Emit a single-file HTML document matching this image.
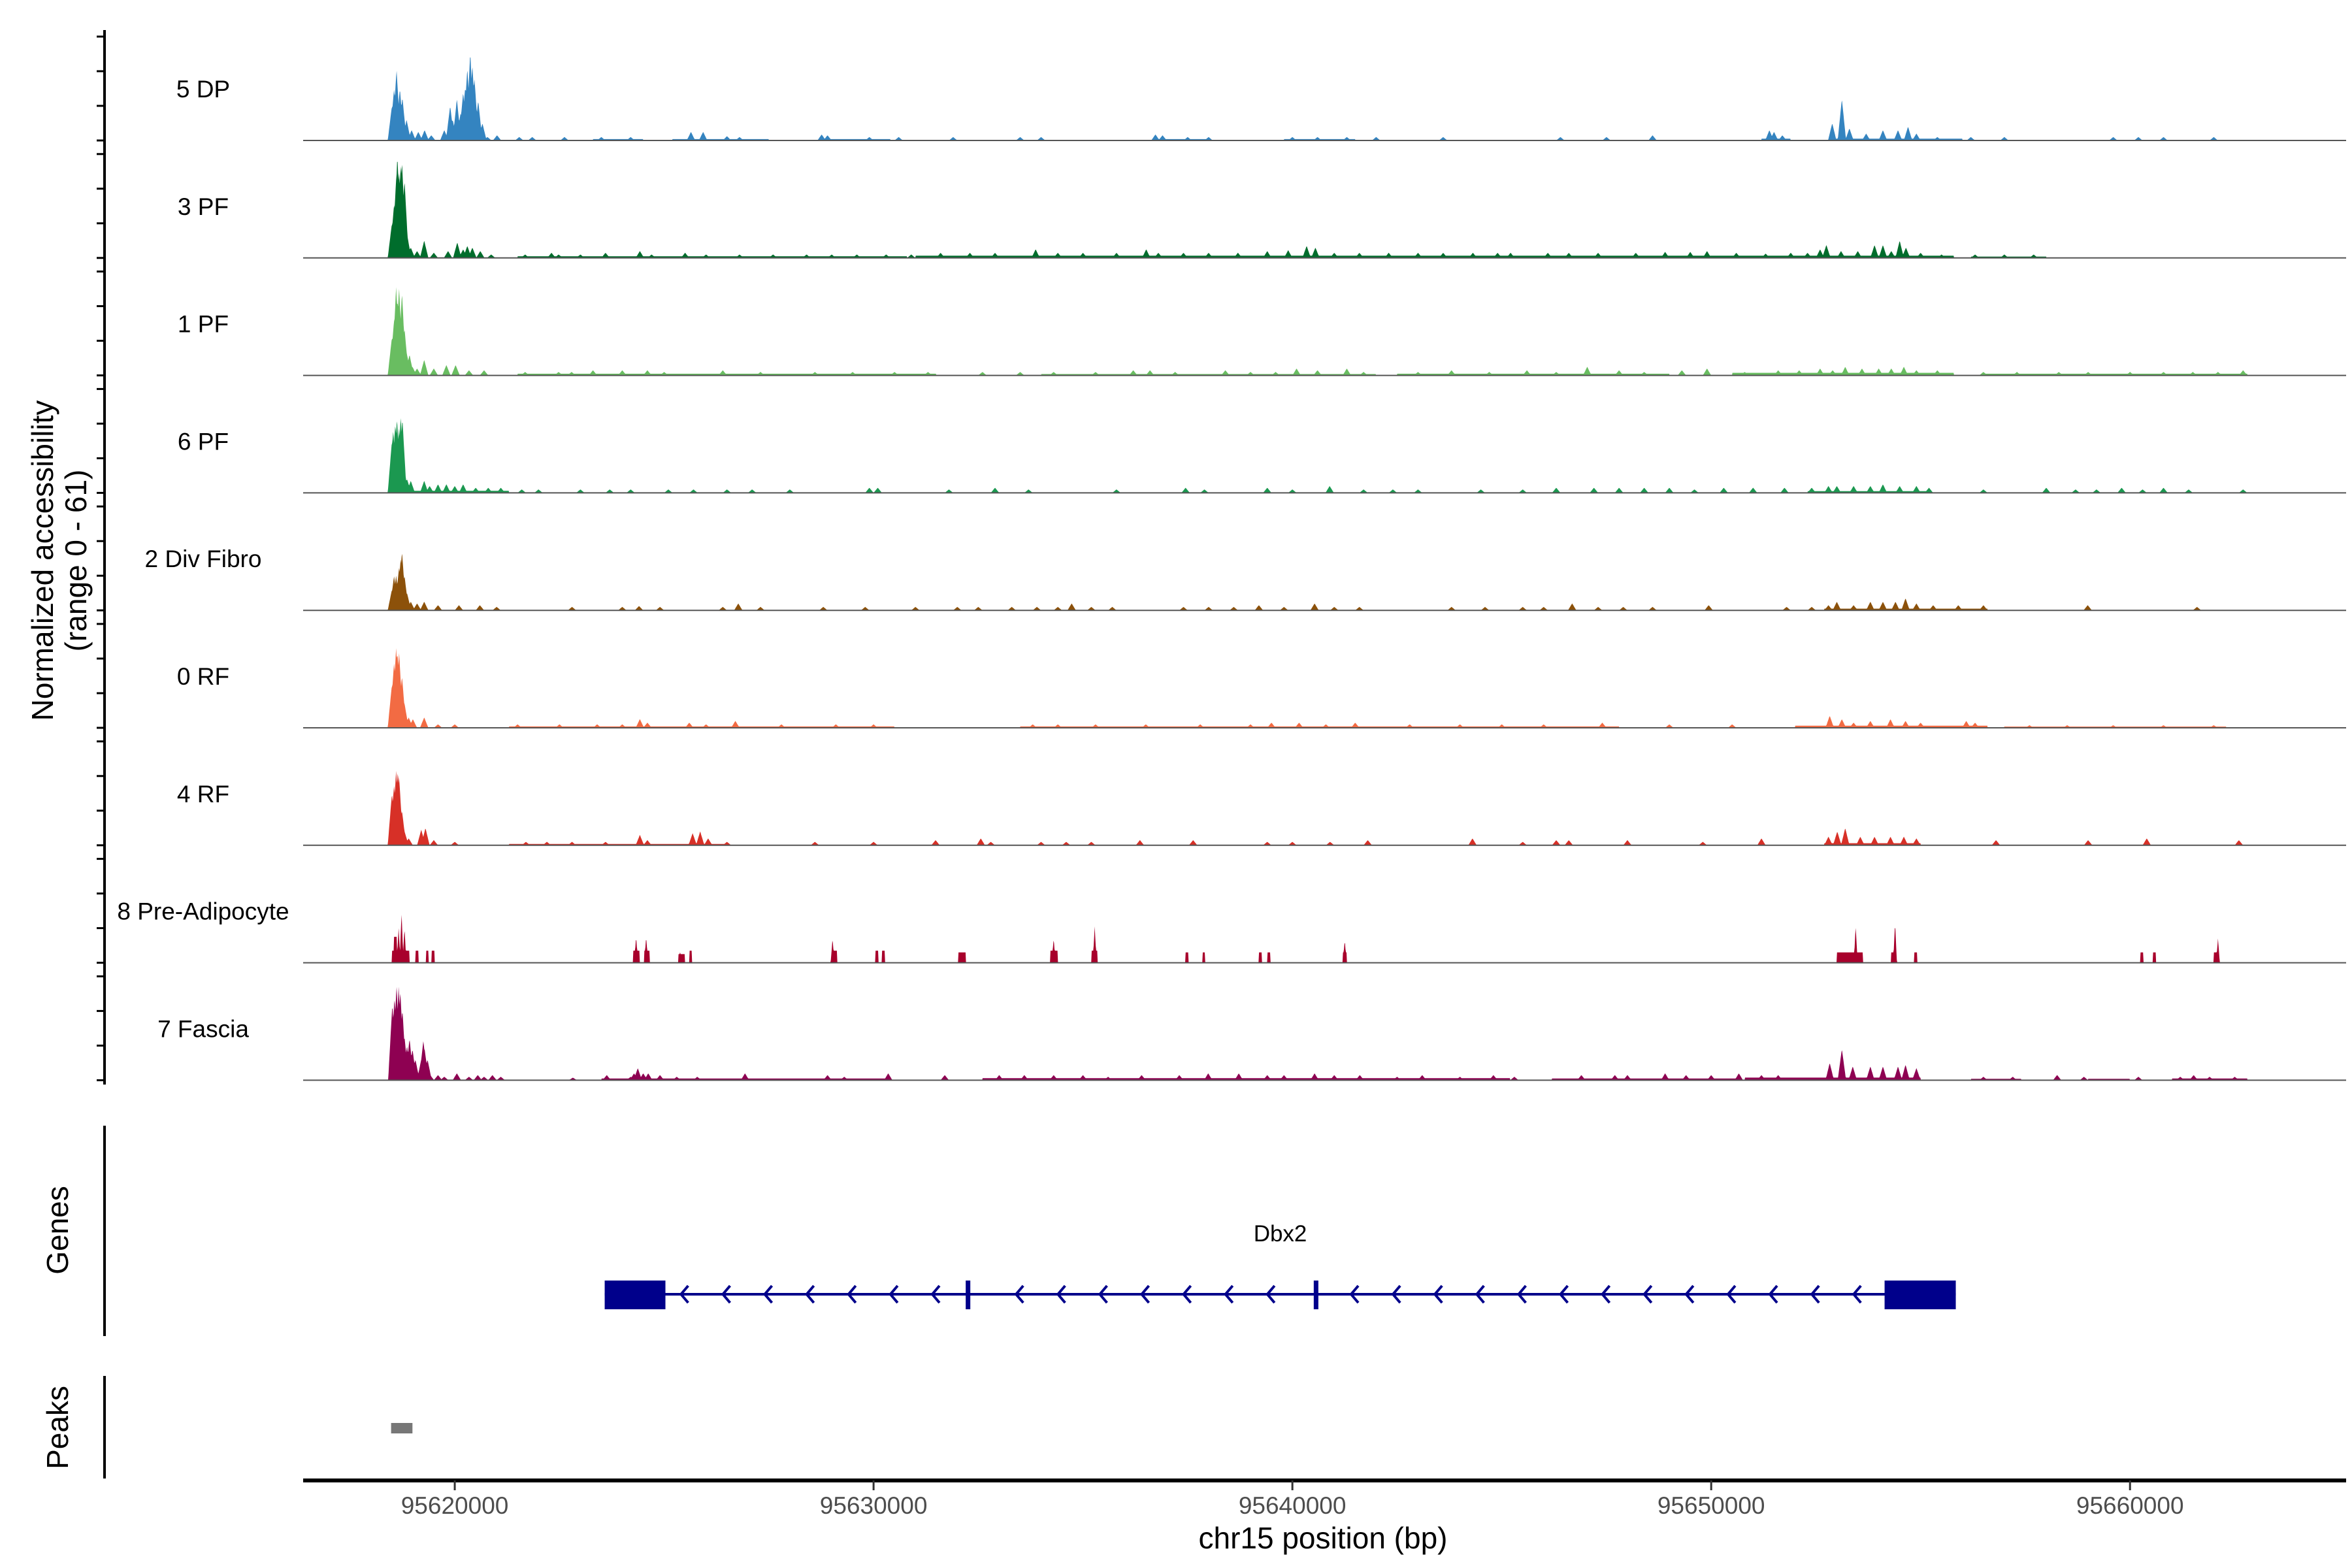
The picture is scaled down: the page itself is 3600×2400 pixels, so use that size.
<!DOCTYPE html>
<html><head><meta charset="utf-8"><title>Coverage plot chr15</title>
<style>
html,body{margin:0;padding:0;background:#fff;}
svg{display:block;font-family:"Liberation Sans",Arial,sans-serif;}
</style></head>
<body>
<svg id="chart" width="3600" height="2400" viewBox="0 0 3600 2400" xmlns="http://www.w3.org/2000/svg">
<rect x="0" y="0" width="3600" height="2400" fill="#fff"/>
<g id="tracks"></g>
<g id="genes"></g>
<g id="peaksPanel"></g>
<g id="xaxis"></g>
<text x="0" y="0" font-size="46" text-anchor="middle" transform="translate(81,858) rotate(-90)">Normalized accessibility</text>
<text x="0" y="0" font-size="46" text-anchor="middle" transform="translate(132,858) rotate(-90)">(range 0 - 61)</text>
<text x="0" y="0" font-size="46" text-anchor="middle" transform="translate(104,1883) rotate(-90)">Genes</text>
<text x="0" y="0" font-size="46" text-anchor="middle" transform="translate(104,2185) rotate(-90)">Peaks</text>
<text x="2025" y="2370" font-size="46" text-anchor="middle">chr15 position (bp)</text>
</svg>
<script>
// positions in kb offset from 95,600,000 bp ; values in normalized accessibility units
const trackNames = ["5 DP","3 PF","1 PF","6 PF","2 Div Fibro","0 RF","4 RF","8 Pre-Adipocyte","7 Fascia"];
const trackColors = ["#3484c0","#006d2c","#69bd61","#1b9850","#8c510a","#f26b43","#d73027","#a8002c","#8e0152"];
const xTicks = [20,30,40,50,60];
const xTickLabels = ["95620000","95630000","95640000","95650000","95660000"];

const peaks_5DP = [[18.50,20],[18.55,30],[18.61,41],[18.69,30],[18.75,25],[18.85,12],[18.97,6],[19.13,5],[19.28,6],[19.44,3],[19.75,6],[19.89,20],[19.95,12],[20.05,24],[20.14,16],[20.20,28],[20.25,31],[20.30,42],[20.37,51],[20.42,44],[20.47,36],[20.56,23],[20.66,10],[20.78,2],[21.01,3],[21.54,2],[21.85,2],[22.62,2],[23.5,2],[24.2,2],[25.64,5],[25.93,5],[26.5,2.5],[26.8,2],[28.76,3.5],[28.9,3],[29.9,2],[30.6,2],[31.9,2],[33.5,2],[34.0,2],[36.73,3.5],[36.9,3],[37.5,2],[38.0,2],[40.0,2],[40.6,2],[41.3,2],[42.0,2],[43.6,2],[46.4,2],[47.5,2],[48.6,3],[51.39,6],[51.5,5],[51.7,3],[52.89,10],[53.12,24],[53.3,7],[53.7,4],[54.1,6],[54.46,6],[54.7,8],[54.9,4],[55.4,2],[56.2,2],[57.0,2],[59.6,2],[60.2,2],[60.8,2],[62.0,2]];
const plat_5DP = [[23.3,24.5,0.8],[25.2,27.5,0.8],[28.8,30.4,0.8],[36.7,38.0,0.8],[39.8,41.5,0.8],[51.2,51.9,1],[52.8,56.0,1]];

const peaks_3PF = [[18.50,20],[18.55,31],[18.60,45],[18.63,59],[18.67,50],[18.71,54],[18.74,56],[18.80,45],[18.86,14],[18.95,6],[19.1,4],[19.27,10],[19.5,3],[19.84,4],[20.06,9],[20.2,5],[20.30,7],[20.42,6],[20.61,4],[20.87,2],[21.68,2],[22.31,3],[22.48,2],[23.0,2],[23.6,3],[24.42,4],[24.7,2],[25.5,3],[26.0,2],[26.8,2],[27.6,2],[28.4,2],[29.0,2],[29.6,2],[30.3,2],[30.9,2],[31.6,3],[32.3,3],[32.9,3],[33.87,5],[34.4,3],[35.0,3],[35.8,3],[36.51,5],[36.8,3],[37.4,3],[38.0,3],[38.7,3],[39.4,4],[39.9,4.5],[40.34,7],[40.55,6],[41.0,3],[41.6,3],[42.3,3],[43.0,3],[43.6,3],[44.31,3],[44.9,3],[45.21,3],[46.1,3],[46.6,3],[47.3,3],[48.2,3],[48.9,3.5],[49.5,3.5],[49.9,4],[50.6,3],[51.3,2.5],[51.9,3],[52.3,3],[52.6,5],[52.75,7.5],[53.1,4],[53.5,4],[53.9,7.5],[54.1,7.5],[54.3,4],[54.5,10],[54.65,6],[55.0,3],[55.5,2],[56.3,2],[57.0,2],[57.7,2]];
const plat_3PF = [[21.5,30.8,1.0],[31.0,55.8,1.3],[56.2,58.0,0.8]];

const peaks_1PF = [[18.50,22],[18.55,32],[18.60,51],[18.63,44],[18.67,51],[18.74,48],[18.80,27],[18.86,12],[18.92,12],[18.99,5],[19.1,4],[19.27,9],[19.5,4],[19.80,6],[20.02,6],[20.34,3],[20.70,3],[21.68,2],[22.48,2],[22.79,2],[23.3,3],[24.0,3],[24.6,3],[25.0,2],[26.4,3],[27.3,2],[28.6,2],[29.5,2],[30.5,2],[31.3,2],[32.6,2],[33.5,2],[34.3,2],[35.3,2],[36.2,3],[36.6,3],[37.2,2],[38.4,3],[39.0,2],[39.6,2],[40.1,4],[40.6,3],[41.3,4],[41.7,2],[43.0,2],[43.8,3],[44.7,2],[45.6,3],[46.3,2],[47.04,5],[47.8,3],[48.4,2],[49.3,3],[49.9,4],[50.8,2],[51.6,3],[52.1,3],[52.6,4],[52.9,3],[53.2,5],[53.6,4],[54.0,4],[54.3,4],[54.6,5],[54.9,3],[55.4,3],[56.5,2],[57.3,2],[58.3,2],[59.0,2],[60.0,2],[60.8,2],[61.5,2],[62.1,2],[62.7,3]];
const plat_1PF = [[21.5,31.5,1],[34,42,0.8],[42.5,49,1],[50.5,55.8,1.5],[56.5,62.8,1]];

const peaks_6PF = [[18.50,30],[18.53,36],[18.58,40],[18.62,43],[18.67,38],[18.71,44],[18.75,43],[18.80,12],[18.86,8],[18.95,7],[19.27,7],[19.4,4],[19.6,5],[19.8,5],[20.0,4],[20.2,5],[20.5,3],[20.8,3],[21.1,3],[21.6,2],[22.0,2],[23.0,2],[23.7,2],[24.2,2],[25.1,2],[25.7,2],[26.5,2],[27.1,2],[28.0,2],[29.9,3],[30.1,3],[31.8,2],[32.9,3],[33.7,2],[35.8,2],[37.45,3],[37.9,2],[39.4,3],[40.0,2],[40.89,4],[41.7,2],[42.4,2],[43.0,2],[44.5,2],[45.5,2],[46.3,3],[47.2,3],[47.8,3],[48.4,3],[49.0,3],[49.6,2],[50.3,3],[51.0,3],[51.75,3],[52.4,3],[52.8,4],[53.0,4],[53.4,4],[53.8,4],[54.1,5],[54.5,4],[54.9,4],[55.2,3],[56.5,2],[58.0,3],[58.7,2],[59.2,2],[59.8,3],[60.3,2],[60.8,3],[61.4,2],[62.7,2]];
const plat_6PF = [[19.0,21.3,1.2],[52.3,55.2,1]];

const peaks_DivFibro = [[18.50,12],[18.55,20],[18.60,20],[18.67,25],[18.71,30],[18.74,34],[18.80,20],[18.86,10],[18.95,5],[19.1,4],[19.27,5],[19.6,3],[20.1,3],[20.6,3],[21.0,2],[22.8,2],[24.0,2],[24.4,2.5],[24.9,2],[26.4,2],[26.77,4],[27.3,2],[28.8,2],[29.8,2],[31.0,2],[32.0,2],[32.5,2],[33.3,2],[33.9,2],[34.4,2],[34.73,4],[35.2,2],[35.7,2],[37.4,2],[38.0,2],[38.6,2],[39.2,3],[39.8,2],[40.53,4],[41.0,2],[41.6,2],[43.8,2],[44.6,2],[45.5,2],[46.0,2],[46.68,4],[47.3,2],[47.9,2],[48.6,2],[49.94,3],[51.8,2],[52.4,2],[52.8,3],[53.0,5],[53.4,3],[53.8,5],[54.1,5],[54.4,5],[54.64,7],[54.9,4],[55.3,3],[55.9,3],[56.5,3],[58.99,3],[61.6,2]];
const plat_DivFibro = [[52.7,56.6,1]];

const peaks_0RF = [[18.50,25],[18.55,38],[18.60,46],[18.63,44],[18.67,44],[18.74,30],[18.80,14],[18.9,6],[19.0,5],[19.27,6],[19.6,2],[20.0,2],[21.5,2],[22.5,2],[23.4,2],[24.0,2],[24.42,5],[24.6,3],[25.6,3],[26.0,2],[26.7,4],[27.8,2],[29.1,2],[30.0,2],[33.8,2],[34.4,2],[35.3,2],[36.5,2],[37.8,2],[39.0,2],[39.5,3],[40.16,3],[40.8,2],[41.5,3],[42.8,2],[44.0,2],[45.0,2],[46.0,2],[47.4,3],[49.0,2],[50.5,2],[52.83,7],[53.12,5],[53.4,3],[53.8,4],[54.28,5],[54.64,4],[55.0,3],[56.09,4],[56.3,3],[57.6,1.5],[58.5,1.5],[59.6,1.5],[60.8,1.5],[62.0,1.5]];
const plat_0RF = [[21.3,30.5,0.8],[33.5,47.8,0.8],[52.0,56.6,1.2],[57.0,62.3,0.7]];

const peaks_4RF = [[18.50,30],[18.55,35],[18.60,43],[18.64,43],[18.67,40],[18.74,20],[18.80,8],[18.9,4],[19.20,9],[19.30,10],[19.5,3],[20.0,2],[21.7,2],[22.2,2],[22.8,2],[23.6,2],[24.42,6],[24.6,3],[25.68,7],[25.86,8],[26.05,4],[26.5,2],[28.6,2],[30.0,2],[31.48,3],[32.56,4],[32.8,2],[34.0,2],[34.6,2],[35.2,2],[36.36,3],[37.63,3],[39.4,2],[40.0,2],[40.9,2],[41.8,3],[44.3,4],[45.5,2],[46.3,3],[46.6,3],[48.0,3],[49.8,2],[51.2,4],[52.8,5],[53.01,8],[53.2,10],[53.56,5],[53.9,5],[54.28,5],[54.6,5],[54.9,4],[56.8,3],[59.0,3],[60.4,4],[62.6,3]];
const plat_4RF = [[21.3,26.5,0.8],[52.7,55.0,1.2]];

const peaks_PreAdipocyte = [[18.73,29],[18.66,20],[18.80,20],[24.33,15],[24.57,15],[25.38,6],[29.02,14],[34.3,14],[35.28,21],[41.25,13],[53.45,21],[54.39,23],[62.1,14]];
const plat_PreAdipocyte = [[18.50,18.92,7],[18.55,18.62,15],[19.06,19.14,7],[19.31,19.38,7],[19.45,19.52,7],[24.26,24.42,7],[24.52,24.66,7],[25.34,25.49,5],[25.6,25.66,7],[29.0,29.13,7],[30.04,30.12,7],[30.2,30.27,7],[32.02,32.2,6],[34.22,34.4,7],[35.2,35.35,7],[37.45,37.52,6],[37.85,37.92,6],[39.2,39.27,6],[39.4,39.47,6],[41.2,41.3,6],[53.0,53.6,6],[53.55,53.62,6],[54.3,54.42,6],[54.85,54.92,6],[60.25,60.32,6],[60.55,60.62,6],[62.0,62.1,6]];

const peaks_Fascia = [[18.51,44],[18.56,48],[18.61,55],[18.66,54],[18.70,52],[18.75,41],[18.80,25],[18.86,20],[18.92,24],[18.99,18],[19.06,12],[19.13,4],[19.20,12],[19.25,23],[19.28,18],[19.35,12],[19.41,3],[19.6,3],[19.75,2],[20.05,4],[20.34,2],[20.55,3],[20.7,2],[20.9,3],[21.1,2],[22.82,1.5],[23.63,3],[24.2,2],[24.28,4],[24.37,7],[24.5,4],[24.62,4],[24.9,3],[25.3,2],[25.79,2],[26.93,4],[28.9,3],[29.3,2],[30.35,4],[31.7,3],[33.0,3],[33.6,3],[34.3,3],[35.0,3],[35.6,2],[36.4,3],[37.3,3],[37.99,4],[38.72,4],[39.4,3],[39.8,3],[40.53,4],[41.0,3],[41.61,3],[42.5,2],[43.1,3],[44.0,2],[44.8,3],[45.3,2],[46.9,3],[47.7,3],[48.0,3],[48.9,4],[49.4,3],[50.0,3],[50.66,4],[51.2,3],[51.6,3],[52.83,10],[53.12,18],[53.38,8],[53.8,8],[54.1,8],[54.46,8],[54.64,9],[54.9,7],[56.5,2],[57.2,2],[58.26,3],[58.9,2],[60.2,2],[61.2,2],[61.52,3],[61.9,2],[62.5,2]];
const plat_Fascia = [[23.5,30.4,1],[32.6,45.2,1.2],[46.2,50.6,1],[50.8,55.0,1.5],[56.2,57.4,0.8],[59.0,60.0,0.8],[61.0,62.8,1]];

const trackPeaks = [peaks_5DP,peaks_3PF,peaks_1PF,peaks_6PF,peaks_DivFibro,peaks_0RF,peaks_4RF,peaks_PreAdipocyte,peaks_Fascia];
const trackPlats = [plat_5DP,plat_3PF,plat_1PF,plat_6PF,plat_DivFibro,plat_0RF,plat_4RF,plat_PreAdipocyte,plat_Fascia];

// gene model (kb offsets)
const geneStart = 23.58, geneEnd = 55.84;
const geneExons = [[23.58,25.03],[32.20,32.31],[40.51,40.62],[54.14,55.84]];
const peakRegions = [[18.48,18.99]];

// ---------- scales ----------
const X0 = 464, X1 = 3591, D0 = 16.38, D1 = 65.16;
function X(kb){ return X0 + (kb - D0) * (X1 - X0) / (D1 - D0); }
const BASE0 = 215, TRACK_STEP = 179.8, PX_PER_UNIT = 2.65;
function baseY(i){ return BASE0 + TRACK_STEP * i; }
function Y(i, v){ return baseY(i) - v * PX_PER_UNIT; }

const NS = "http://www.w3.org/2000/svg";
function mk(tag, attrs){ const e = document.createElementNS(NS, tag); for (const k in attrs) e.setAttribute(k, attrs[k]); return e; }

const tracksG = document.getElementById('tracks');
const yAxis = mk('line', {x1:160, y1:46, x2:160, y2:1660, stroke:'#000', 'stroke-width':4});


tracksG.appendChild(yAxis);

function signalAt(x, peaks, plats, hw){
  let v = 0;
  for (const p of plats){ if (x >= p[0] && x <= p[1] && p[2] > v) v = p[2]; }
  for (const p of peaks){ const d = Math.abs(x - p[0]); if (d < hw){ const t = p[1] * (1 - d / hw); if (t > v) v = t; } }
  return v;
}

for (let i = 0; i < trackNames.length; i++){
  const g = mk('g', {});
  
  
  tracksG.appendChild(g);
  const b = baseY(i);
  [0,20,40,60].forEach(function(v){
    const t = mk('line', {x1:148, x2:160, y1:Y(i,v), y2:Y(i,v), stroke:'#000', 'stroke-width':3});
    
    
    g.appendChild(t);
  });
  const hw = (i === 7) ? 0.045 : 0.1;
  const step = 0.012;
  let d = 'M' + X(D0).toFixed(1) + ',' + b;
  for (let x = D0; x <= D1; x += step){
    const v = signalAt(x, trackPeaks[i], trackPlats[i], hw);
    d += 'L' + X(x).toFixed(1) + ',' + Y(i, v).toFixed(1);
  }
  d += 'L' + X(D1).toFixed(1) + ',' + b + 'Z';
  const area = mk('path', {d:d, fill:trackColors[i], stroke:'none'});
  
  
  g.appendChild(area);
  const bl = mk('line', {x1:X0, x2:X1, y1:b, y2:b, stroke:'#555', 'stroke-width':2});
  
  
  g.appendChild(bl);
  const lab = mk('text', {x:311, y:b - 66, 'font-size':37, 'text-anchor':'middle', fill:'#000'});
  lab.textContent = trackNames[i];
  
  
  g.appendChild(lab);
}

const genesG = document.getElementById('genes');
const gAxis = mk('line', {x1:160, x2:160, y1:1723, y2:2045, stroke:'#000', 'stroke-width':4});


genesG.appendChild(gAxis);
const GY = 1981;
const gl = mk('line', {x1:X(geneStart), x2:X(geneEnd), y1:GY, y2:GY, stroke:'#00008b', 'stroke-width':4});


genesG.appendChild(gl);
for (let k = geneStart + 1.9; k < geneEnd - 1.5; k += 1.0){
  let skip = false;
  for (const e of geneExons){ if (k > e[0] - 0.3 && k < e[1] + 0.3) skip = true; }
  if (skip) continue;
  const x = X(k);
  const ch = mk('polyline', {points:(x+6)+','+(GY-13)+' '+(x-5)+','+GY+' '+(x+6)+','+(GY+13), fill:'none', stroke:'#00008b', 'stroke-width':4});
  
  
  genesG.appendChild(ch);
}
geneExons.forEach(function(e){
  const r = mk('rect', {x:X(e[0]), y:1960, width:Math.max(7, X(e[1]) - X(e[0])), height:44, fill:'#00008b'});
  
  
  genesG.appendChild(r);
});
const gname = mk('text', {x:X((geneStart + geneEnd) / 2), y:1900, 'font-size':35, 'text-anchor':'middle'});
gname.textContent = 'Dbx2';


genesG.appendChild(gname);

const pG = document.getElementById('peaksPanel');
const pAxis = mk('line', {x1:160, x2:160, y1:2106, y2:2263, stroke:'#000', 'stroke-width':4});


pG.appendChild(pAxis);
peakRegions.forEach(function(p){
  const r = mk('rect', {x:X(p[0]), y:2178, width:X(p[1]) - X(p[0]), height:16, fill:'#777'});
  
  
  pG.appendChild(r);
});

const xG = document.getElementById('xaxis');
const xl = mk('line', {x1:X0, x2:X1, y1:2266, y2:2266, stroke:'#000', 'stroke-width':6});


xG.appendChild(xl);
xTicks.forEach(function(t, j){
  const tk = mk('line', {x1:X(t), x2:X(t), y1:2266, y2:2281, stroke:'#333', 'stroke-width':3});
  
  
  xG.appendChild(tk);
  const lb = mk('text', {x:X(t), y:2317, 'font-size':37, 'text-anchor':'middle', fill:'#4d4d4d'});
  lb.textContent = xTickLabels[j];
  
  
  xG.appendChild(lb);
});
</script>
</body></html>
